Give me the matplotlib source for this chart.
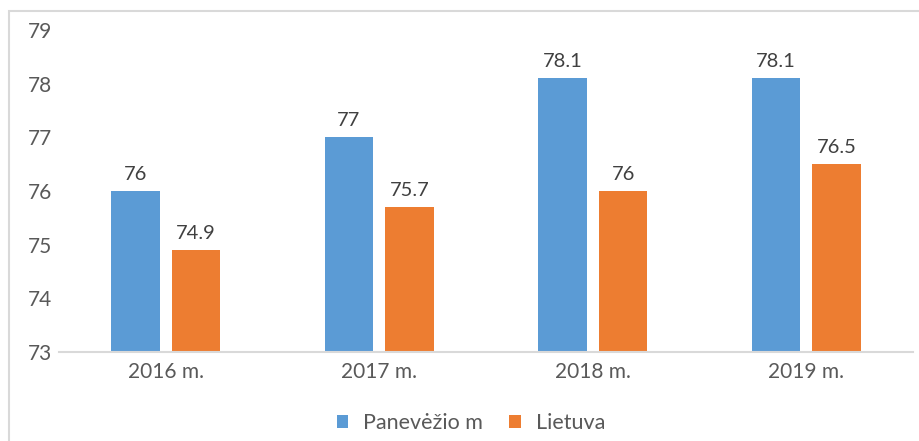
import numpy as np
import matplotlib.pyplot as plt
from matplotlib.patches import Rectangle

# chart data
categories = ["2016 m.", "2017 m.", "2018 m.", "2019 m."]
panevezys = [76, 77, 78.1, 78.1]
lietuva = [74.9, 75.7, 76, 76.5]
series_names = ["Panevėžio m", "Lietuva"]

blue = "#5B9BD5"
orange = "#ED7D31"
txt = "#595959"

plt.rcParams['font.family'] = ['Lato', 'DejaVu Sans']

fig = plt.figure(figsize=(9.2, 4.41), dpi=100)
ax = fig.add_axes([59 / 920, 1 - 352 / 441, (913 - 59) / 920, (352 - 30) / 441])

x = np.arange(len(categories))
w = 0.227
b1 = ax.bar(x - 0.142, np.array(panevezys) - 73, w, bottom=73, color=blue, label=series_names[0])
b2 = ax.bar(x + 0.142, np.array(lietuva) - 73, w, bottom=73, color=orange, label=series_names[1])

for bars, vals in [(b1, panevezys), (b2, lietuva)]:
    for r, v in zip(bars, vals):
        ax.annotate(f"{v:g}", (r.get_x() + r.get_width() / 2, v), xytext=(0, 6),
                    textcoords="offset points", ha="center", va="bottom",
                    fontsize=14.5, color="#404040")

ax.set_xlim(-0.5, len(categories) - 0.5)
ax.set_ylim(73, 79)
ax.set_yticks(range(73, 80))
ax.set_xticks(x)
ax.set_xticklabels(categories)
ax.tick_params(axis="both", length=0, labelsize=15, colors=txt)
ax.tick_params(axis="x", pad=7)
ax.tick_params(axis="y", pad=5)
for s in ["top", "right", "left"]:
    ax.spines[s].set_visible(False)
ax.spines["bottom"].set_color("#d9d9d9")
ax.spines["bottom"].set_linewidth(1.5)

leg = fig.legend(loc="center", bbox_to_anchor=(471 / 920, 1 - 423 / 441), ncol=2,
                 frameon=False, fontsize=15.5, handlelength=0.55, handleheight=0.55,
                 handletextpad=0.7, columnspacing=1.2)
for t in leg.get_texts():
    t.set_color(txt)

# chart frame (right and bottom edges fall outside the picture)
fig.patches.append(Rectangle((9 / 920, -0.1), 1.1, 1 - 11 / 441 + 0.1, transform=fig.transFigure,
                             fill=False, edgecolor="#d9d9d9", linewidth=1.5))

fig.savefig("out.png", dpi=100)
